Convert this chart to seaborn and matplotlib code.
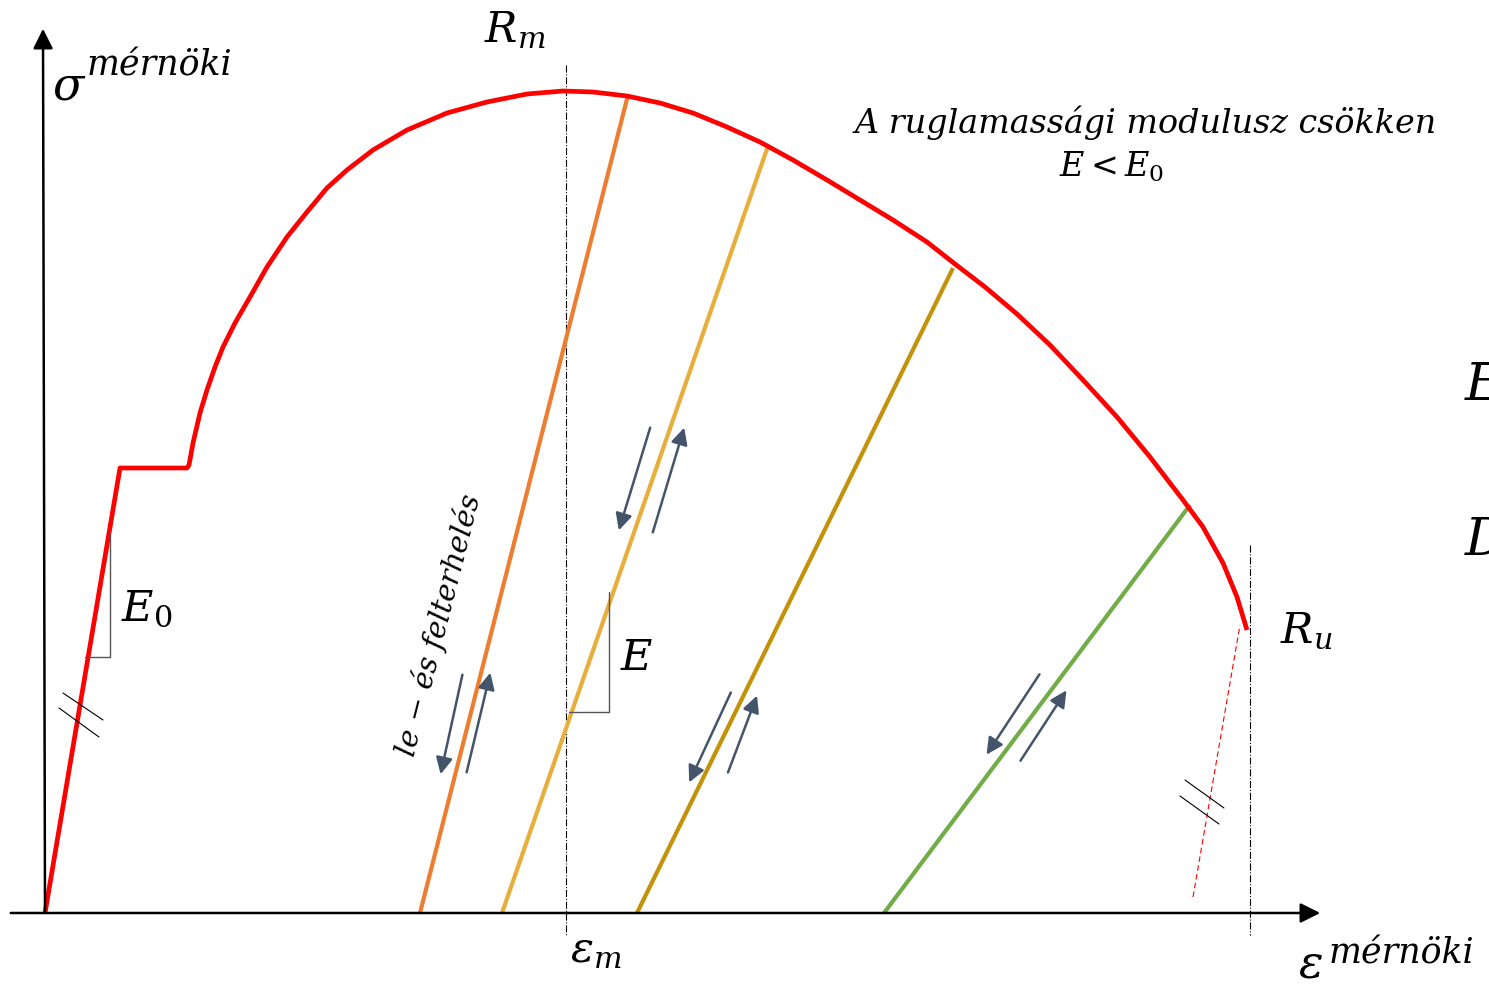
import matplotlib
matplotlib.use("Agg")
import matplotlib.pyplot as plt
import seaborn as sns
import pandas as pd

# ---- data (schematic, pixel-like units, y downward) ----
curve_x = [45, 120, 187, 189, 193, 200, 207, 215, 223, 235, 250, 267, 287, 307, 327, 347, 373, 407, 447,
           487, 527, 563, 593, 627, 660, 693, 727, 760, 793, 827, 860, 893, 927, 955, 985, 1017, 1050,
           1083, 1117, 1150, 1183, 1203, 1223, 1237, 1247]
curve_y = [913, 468, 468, 465, 443, 413, 390, 367, 347, 323, 297, 267, 237, 212, 188, 170, 150, 130, 113,
           102, 94, 91, 92, 96, 103, 113, 127, 142, 160, 180, 200, 220, 242, 264, 287, 314, 345,
           380, 417, 457, 500, 527, 563, 597, 630]

unload_names = ["u1", "u2", "u3", "u4"]
unload_x0 = [420, 502, 637, 884]
unload_x1 = [628, 768, 953, 1190]
unload_y1 = [95, 146, 268, 505]
unload_colors = ["#ED7D31", "#E8AE3C", "#C39208", "#70AD47"]

# arrows: (x_start, y_start, x_end, y_end)
arrows = [
    (463, 672, 440, 777), (466, 775, 491, 670),
    (651, 425, 618, 533), (652, 535, 685, 425),
    (732, 690, 688, 785), (727, 775, 758, 693),
    (1041, 672, 985, 757), (1019, 763, 1068, 688),
]

sns.set_style("white")
plt.rcParams["mathtext.fontset"] = "dejavuserif"
plt.rcParams["font.family"] = ["DejaVu Serif", "DejaVu Sans"]
plt.rcParams["text.color"] = "black"

fig = plt.figure(figsize=(14.89, 9.93), dpi=100)
ax = fig.add_axes([0, 0, 1, 1])
ax.set_xlim(0, 1489)
ax.set_ylim(993, 0)
ax.axis("off")

# axes with arrows
ax.annotate("", xy=(1323, 913), xytext=(8, 913),
            arrowprops=dict(arrowstyle="-|>", color="black", lw=1.8, mutation_scale=30))
ax.annotate("", xy=(43, 26), xytext=(45, 915),
            arrowprops=dict(arrowstyle="-|>", color="black", lw=1.8, mutation_scale=30))

# dash-dot guides
ax.plot([566, 566], [65, 935], color="black", lw=0.8, ls="-.")
ax.plot([1250, 1250], [545, 935], color="black", lw=0.8, ls="-.")

# unloading lines
for n, x0, x1, y1, c in zip(unload_names, unload_x0, unload_x1, unload_y1, unload_colors):
    df = pd.DataFrame({"x": [x0, x1], "y": [913, y1]})
    sns.lineplot(data=df, x="x", y="y", ax=ax, color=c, lw=3.0, sort=False,
                 solid_capstyle="butt")

# main curve
df_c = pd.DataFrame({"x": curve_x, "y": curve_y})
sns.lineplot(data=df_c, x="x", y="y", ax=ax, color="#FF0000", lw=3.4, sort=False,
             solid_joinstyle="round", solid_capstyle="butt")

# red dashed extrapolation
ax.plot([1193, 1240], [897, 625], color="#FF0000", lw=0.8, ls=(0, (5, 3)))

# hatch marks
for (xa, ya, xb, yb) in [(63, 693, 103, 720), (59, 708, 99, 737),
                         (1185, 780, 1224, 808), (1180, 796, 1219, 824)]:
    ax.plot([xa, xb], [ya, yb], color="black", lw=0.8)

# slope triangles
ax.plot([85, 110, 110], [657, 657, 533], color="#555555", lw=1.0)
ax.plot([569, 609, 609], [712, 712, 592], color="#555555", lw=1.0)

# arrows
for (xs, ys, xe, ye) in arrows:
    ax.annotate("", xy=(xe, ye), xytext=(xs, ys),
                arrowprops=dict(arrowstyle="-|>", color="#44546A", lw=1.8, mutation_scale=25))

# texts
it = dict(fontstyle="italic", color="black")
ax.text(52, 100, r"$\sigma$", fontsize=33, va="baseline", ha="left")
ax.text(87, 75, "mérnöki", fontsize=25, va="baseline", ha="left", **it)
ax.text(1298, 978, r"$\varepsilon$", fontsize=33, va="baseline", ha="left")
ax.text(1329, 964, "mérnöki", fontsize=25, va="baseline", ha="left", **it)
ax.text(484, 42, r"$R_m$", fontsize=31, va="baseline", ha="left")
ax.text(1280, 642, r"$R_u$", fontsize=31, va="baseline", ha="left")
ax.text(121, 620, r"$E_0$", fontsize=31, va="baseline", ha="left")
ax.text(620, 670, r"$E$", fontsize=31, va="baseline", ha="left")
ax.text(570, 962, r"$\varepsilon_m$", fontsize=31, va="baseline", ha="left")
ax.text(1146, 133, "A ruglamassági modulusz csökken", fontsize=24,
        va="baseline", ha="center", **it)
ax.text(1112, 177, r"$E < E_0$", fontsize=24, va="baseline", ha="center")
ax.text(438, 625, "le \u2212 és felterhelés", fontsize=21, rotation=75.7,
        va="center", ha="center", rotation_mode="anchor", **it)
ax.text(1464, 400, r"$E$", fontsize=38, va="baseline", ha="left")
ax.text(1464, 555, r"$D$", fontsize=38, va="baseline", ha="left")

fig.savefig("out.png", dpi=100)
